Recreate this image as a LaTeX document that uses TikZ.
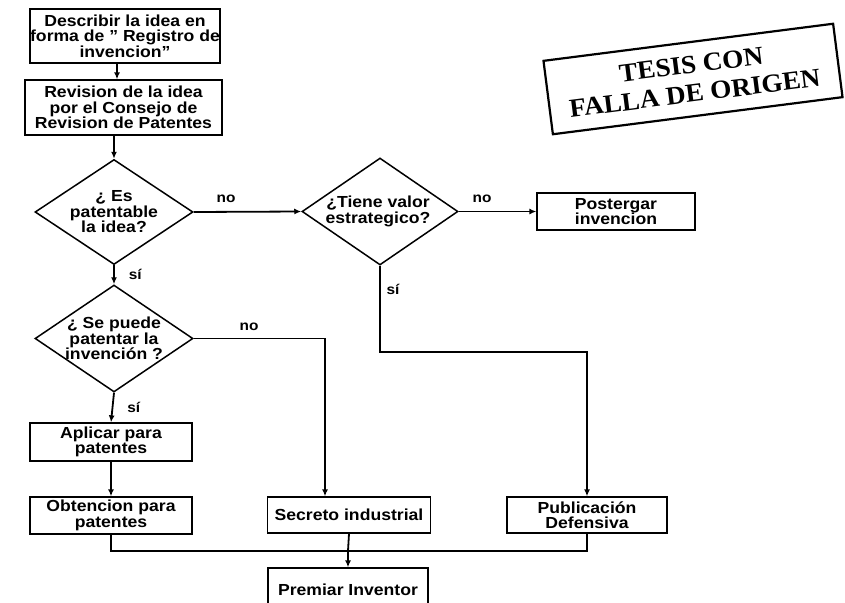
\documentclass[tikz,border=0pt]{standalone}
\usepackage{fontspec}
\setmainfont{Liberation Sans}[FakeStretch=1.1]
\newfontfamily\stampfont{Liberation Serif}[FakeStretch=1.05]
\usetikzlibrary{shapes.geometric,arrows.meta}
\begin{document}
\begin{tikzpicture}[x=1pt,y=-1pt,
  txt/.style={align=center, font=\bfseries\fontsize{16}{15.5}\selectfont, inner sep=0pt},
  box/.style={txt, draw, line width=1.3pt},
  dia/.style={draw, diamond, line width=1.5pt, inner sep=0pt},
  conn/.style={line width=1.8pt},
  arr/.style={conn, -{Latex[length=7pt,width=6pt]}},
  lab/.style={font=\bfseries\fontsize{14}{14}\selectfont, inner sep=0pt},
  stamp/.style={draw, line width=2.2pt, align=center, inner sep=0pt,
    font=\stampfont\bfseries\fontsize{26}{29}\selectfont}]
\clip (0,0) rectangle (845,602);
\fill[white] (0,0) rectangle (845,602);

% boxes
\node[box, minimum width=190pt, minimum height=54pt] (b1) at (125,36)
  {Describir la idea en\\forma de " Registro de\\invencion"};
\node[box, minimum width=197pt, minimum height=55pt] (b2) at (123.5,107.5)
  {Revision de la idea\\por el Consejo de\\Revision de Patentes};
\node[box, minimum width=158pt, minimum height=37pt] (b3) at (616,211.5)
  {Postergar\\invencion};
\node[box, minimum width=162pt, minimum height=38pt] (b4) at (111,442)
  {Aplicar para\\patentes};
\node[box, minimum width=162pt, minimum height=37pt] (b5) at (111,515.5)
  {Obtencion para\\patentes};
\node[box, minimum width=163pt, minimum height=36pt] (b6) at (349,515)
  {Secreto industrial};
\node[box, minimum width=160pt, minimum height=36pt] (b7) at (587,515)
  {Publicación\\Defensiva};
\node[box, minimum width=160pt, minimum height=44pt] (b8) at (348,590)
  {Premiar Inventor};

% diamonds
\node[dia, minimum width=158pt, minimum height=105pt] (d1) at (114,212) {};
\node[txt] (t1) at (d1) {¿ Es\\patentable\\la idea?};
\node[dia, minimum width=156pt, minimum height=107pt] (d2) at (380,211.5) {};
\node[txt] (t2) at (378,211.5) {¿Tiene valor\\estrategico?};
\node[dia, minimum width=158pt, minimum height=107pt] (d3) at (114,338.5) {};
\node[txt] (t3) at (d3) {¿ Se puede\\patentar la\\invención ?};

% stamp
\node[stamp, rotate=7.3, minimum width=292pt, minimum height=74pt] (st) at (693,79)
  {TESIS CON\\FALLA DE ORIGEN};

% coordinates
\coordinate (c1) at (325,338.5);
\coordinate (c2) at (380,352);
\coordinate (c3) at (587,352);
\coordinate (m) at (348,551);

% connectors
\draw[arr] (b1.south -| 117,0) -- (b2.north -| 117,0);
\draw[arr] (b2.south -| d1.north) -- (d1.north);
\draw[arr] (d1.east) -- (d2.west) node[lab, pos=0.3, above=8pt] (l1) {no};
\draw[arr] (d2.east) -- (b3.west) node[lab, pos=0.3, above=8pt] (l2) {no};
\draw[arr] (d1.south) -- (d3.north) node[lab, midway, right=14pt] (l3) {sí};
\draw[arr] (d3.east) -- (c1) -- (c1 |- b6.north);
\node[lab] (l4) at (249,327) {no};
\draw[arr] (d3.south) -- (b4.north) node[lab, midway, right=14pt] (l5) {sí};
\draw[arr] (b4.south) -- (b5.north);
\draw[arr] (d2.south) -- (c2) -- (c3) -- (b7.north);
\node[lab] (l6) at (393,289) {sí};
\draw[conn] (b5.south) |- (m);
\draw[conn] (b7.south) |- (m);
\draw[conn] (b6.south) -- (m);
\draw[arr] (m) -- (b8.north);
\end{tikzpicture}
\end{document}
